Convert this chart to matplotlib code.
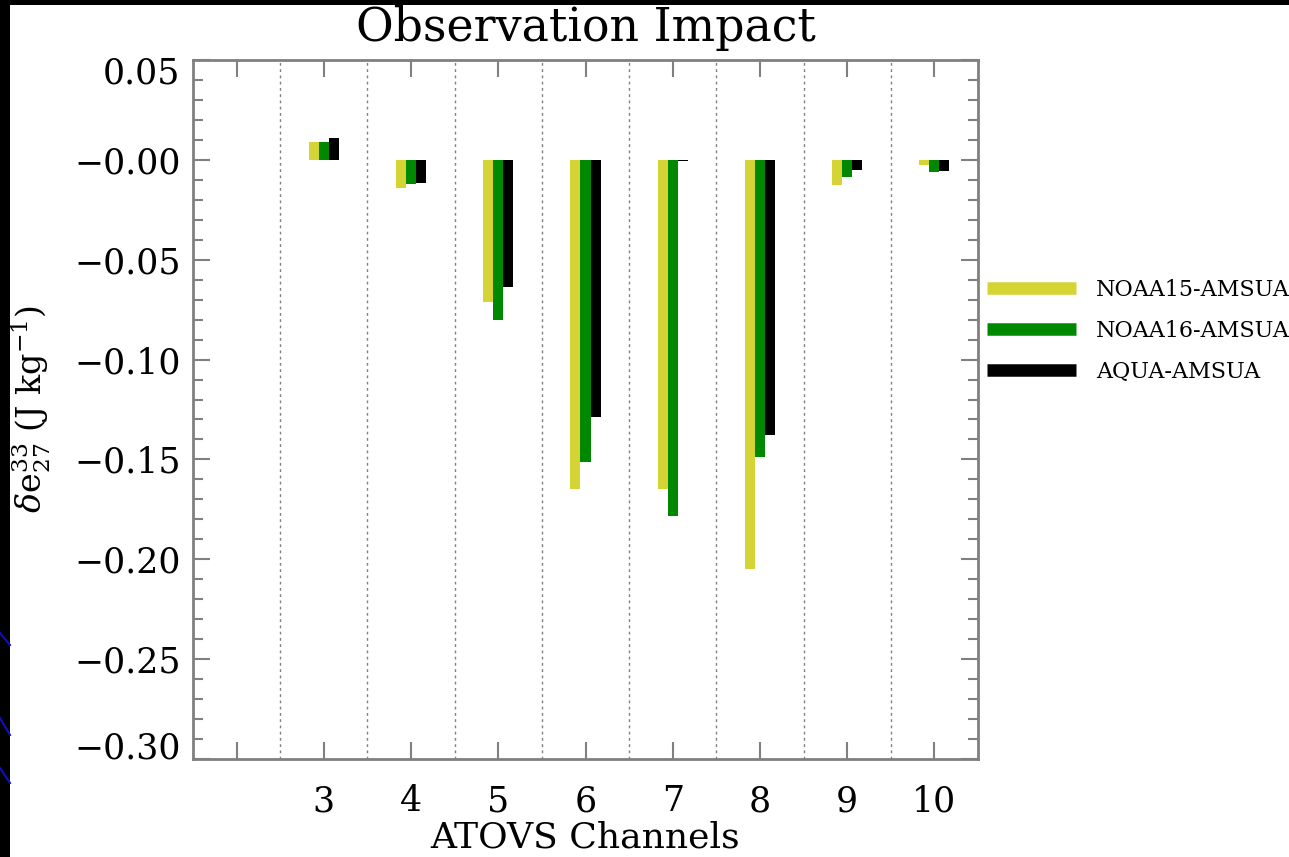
import numpy as np
import matplotlib
matplotlib.use('Agg')
import matplotlib.pyplot as plt
import matplotlib.transforms as mtransforms
from matplotlib.lines import Line2D
from matplotlib.patches import Rectangle
from matplotlib.ticker import FixedLocator, FixedFormatter, MultipleLocator

plt.rcParams['font.family'] = ['DejaVu Serif']
plt.rcParams['mathtext.fontset'] = 'dejavuserif'

# data
channels = [3, 4, 5, 6, 7, 8, 9, 10]
noaa15 = [0.009, -0.0143, -0.071, -0.165, -0.165, -0.205, -0.0127, -0.0027]
noaa16 = [0.009, -0.0123, -0.080, -0.1515, -0.1785, -0.149, -0.0085, -0.0060]
aqua = [0.0107, -0.0118, -0.0635, -0.129, -0.0004, -0.138, -0.0052, -0.0055]
series_names = ['NOAA15-AMSUA', 'NOAA16-AMSUA', 'AQUA-AMSUA']
xtick_pos = [2, 3, 4, 5, 6, 7, 8, 9, 10]
xtick_labels = ['', '3', '4', '5', '6', '7', '8', '9', '10']
ytick_pos = [0.05, 0.0, -0.05, -0.10, -0.15, -0.20, -0.25, -0.30]
ytick_labels = ['0.05', '\u22120.00', '\u22120.05', '\u22120.10', '\u22120.15',
                '\u22120.20', '\u22120.25', '\u22120.30']

colors = ['#d4d434', '#008800', '#000000']
grey = '#808080'

fig = plt.figure(figsize=(12.89, 8.57), dpi=100, facecolor='black')
# white slide area inside black border
fig.add_artist(Rectangle((10 / 1289, 0), 1, 1 - 5 / 857, transform=fig.transFigure,
                         facecolor='white', edgecolor='none', zorder=-10))
# bits of the blue slide decoration on the left strip
for y0, y1 in [(633, 645), (718, 735), (768, 783)]:
    fig.add_artist(Line2D([0, 10 / 1289], [1 - y0 / 857, 1 - y1 / 857],
                          transform=fig.transFigure, color='#1010c0', lw=1.5))

ax = fig.add_axes([193 / 1289, 1 - 759 / 857, 785 / 1289, 699 / 857])
ax.set_facecolor('white')

x = np.array(channels, dtype=float)
w = 0.115
for i, (vals, c, name) in enumerate(zip([noaa15, noaa16, aqua], colors, series_names)):
    ax.bar(x + (i - 1) * w, vals, width=w, color=c, edgecolor='none', zorder=3, label=name)

# dotted separators between channel groups
for b in np.append(x[0] - 0.5, x[:-1] + 0.5):
    ax.axvline(b, color=grey, lw=1.0, linestyle=(0, (2, 2.5)), zorder=1)

ax.set_xlim(1.5, 10.5)
ax.set_ylim(-0.30, 0.05)

ax.xaxis.set_major_locator(FixedLocator(xtick_pos))
ax.xaxis.set_major_formatter(FixedFormatter(xtick_labels))
ax.yaxis.set_major_locator(FixedLocator(ytick_pos))
ax.yaxis.set_major_formatter(FixedFormatter(ytick_labels))
ax.yaxis.set_minor_locator(MultipleLocator(0.01))

ax.tick_params(axis='both', which='both', direction='in', color=grey, width=1.5,
               top=True, right=True)
ax.tick_params(axis='both', which='major', length=12, labelsize=25)
ax.tick_params(axis='y', which='minor', length=7)
ax.tick_params(axis='x', pad=18)
ax.tick_params(axis='y', pad=9)

# end labels sit a little inside the axis like the original
yticks = ax.yaxis.get_major_ticks()
yticks[0].label1.set_transform(yticks[0].label1.get_transform() +
                               mtransforms.ScaledTranslation(0, -10 / 100, fig.dpi_scale_trans))
yticks[-1].label1.set_transform(yticks[-1].label1.get_transform() +
                                mtransforms.ScaledTranslation(0, 14 / 100, fig.dpi_scale_trans))

for s in ax.spines.values():
    s.set_color(grey)
    s.set_linewidth(2)

ax.set_title('Observation Impact', fontsize=33, pad=14)
ax.set_xlabel('ATOVS Channels', fontsize=26, labelpad=2)
ax.set_ylabel(r'$\delta\mathrm{e}^{33}_{27}$ (J kg$^{-1}$)', fontsize=24)
ax.yaxis.set_label_coords(-0.178, 0.5)

handles = [Line2D([], [], color=c, lw=9, solid_capstyle='butt') for c in colors]
fig.legend(handles, series_names, loc='center left',
           bbox_to_anchor=(987 / 1289, 1 - 331 / 857), frameon=False,
           fontsize=16, handlelength=4.0, handletextpad=0.9, labelspacing=0.85,
           borderaxespad=0, borderpad=0)

fig.savefig('out.png', dpi=100, facecolor=fig.get_facecolor())
